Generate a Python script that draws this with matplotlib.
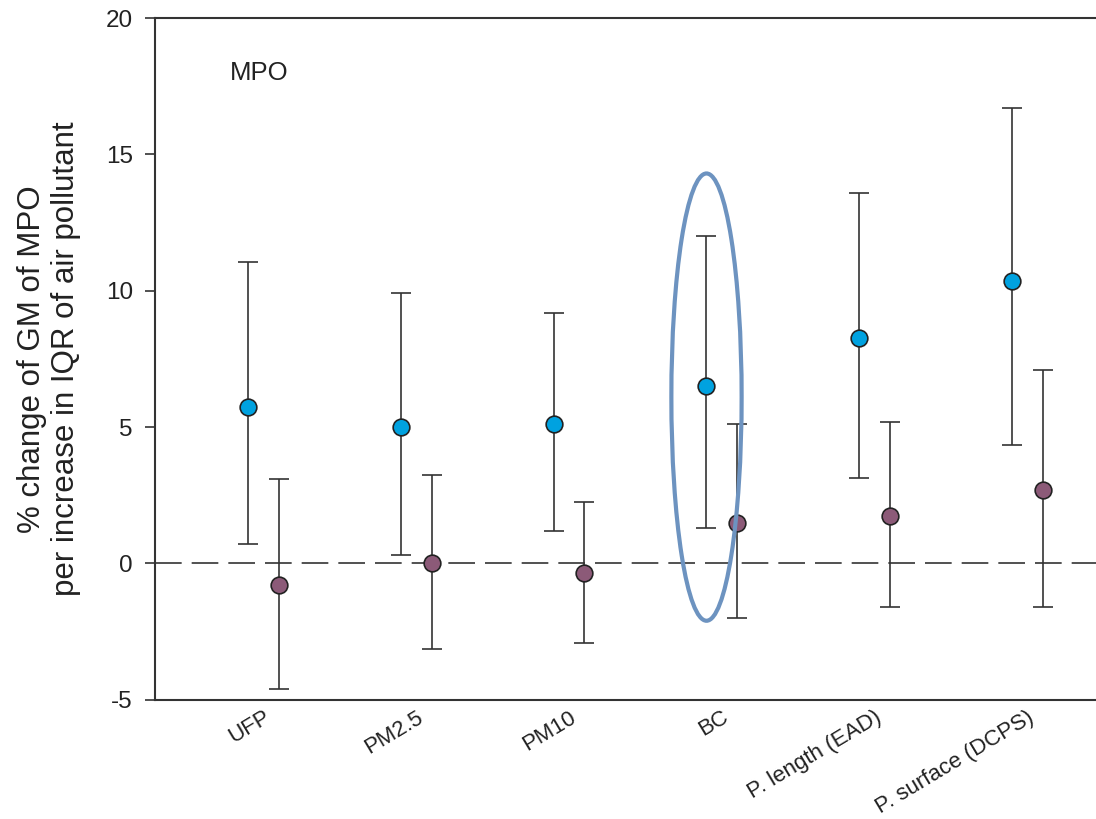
import matplotlib.pyplot as plt
from matplotlib.patches import Ellipse
import numpy as np

plt.rcParams['font.family'] = ['Liberation Sans', 'DejaVu Sans']

categories = ['UFP', 'PM2.5', 'PM10', 'BC', 'P. length (EAD)', 'P. surface (DCPS)']

# blue series (first estimate)
blue_est = [5.75, 5.0, 5.1, 6.5, 8.25, 10.35]
blue_lo = [0.7, 0.3, 1.2, 1.3, 3.15, 4.35]
blue_hi = [11.05, 9.9, 9.2, 12.0, 13.6, 16.7]

# purple series (second estimate)
purple_est = [-0.8, 0.0, -0.35, 1.5, 1.75, 2.7]
purple_lo = [-4.6, -3.15, -2.9, -2.0, -1.6, -1.6]
purple_hi = [3.1, 3.25, 2.25, 5.1, 5.2, 7.1]

blue_col = '#00a2e0'
purple_col = '#8c5a78'
line_col = '#333333'

fig = plt.figure(figsize=(10.96, 8.19), dpi=100)
ax = fig.add_axes([0.1415, 0.1455, 0.8585, 0.8325])

x = np.arange(len(categories))
off = 0.2

def draw(xpos, est, lo, hi, col):
    est = np.array(est)
    yerr = [est - np.array(lo), np.array(hi) - est]
    ax.errorbar(xpos, est, yerr=yerr, fmt='o', color=line_col, ecolor=line_col,
                elinewidth=1.2, capsize=7, capthick=1.2, markersize=12,
                markerfacecolor=col, markeredgecolor='#222222', markeredgewidth=1.2,
                zorder=3)

draw(x, blue_est, blue_lo, blue_hi, blue_col)
draw(x + off, purple_est, purple_lo, purple_hi, purple_col)

ax.axhline(0, color=line_col, linewidth=1.2, linestyle=(0, (16, 6)), zorder=1)

# highlight around BC
ax.add_patch(Ellipse((3.0, 6.1), 0.46, 16.4, fill=False, edgecolor='#6d93c0',
                     linewidth=3, zorder=4))

ax.text(-0.12, 18.0, 'MPO', fontsize=18.5, va='center', ha='left', color='#222222')

ax.set_xlim(-0.61, 5.55)
ax.set_ylim(-5, 20)
ax.set_yticks([-5, 0, 5, 10, 15, 20])
ax.set_yticklabels(['-5', '0', '5', '10', '15', '20'])
ax.set_xticks(x + 0.1)
ax.set_xticklabels(categories, rotation=31, ha='right', rotation_mode='anchor')

ax.tick_params(axis='y', direction='out', length=7, width=1.2, labelsize=17.5,
               pad=9, colors=line_col, labelcolor='#222222')
ax.tick_params(axis='x', length=0, labelsize=16, pad=5, labelcolor='#222222')

for s in ['left', 'bottom', 'top']:
    ax.spines[s].set_linewidth(1.5)
    ax.spines[s].set_color(line_col)
ax.spines['right'].set_visible(False)

ax.set_ylabel('% change of GM of MPO\nper increase in IQR of air pollutant',
              fontsize=22.5, color='#222222', labelpad=18, linespacing=1.15)

fig.savefig('out.png', dpi=100)
